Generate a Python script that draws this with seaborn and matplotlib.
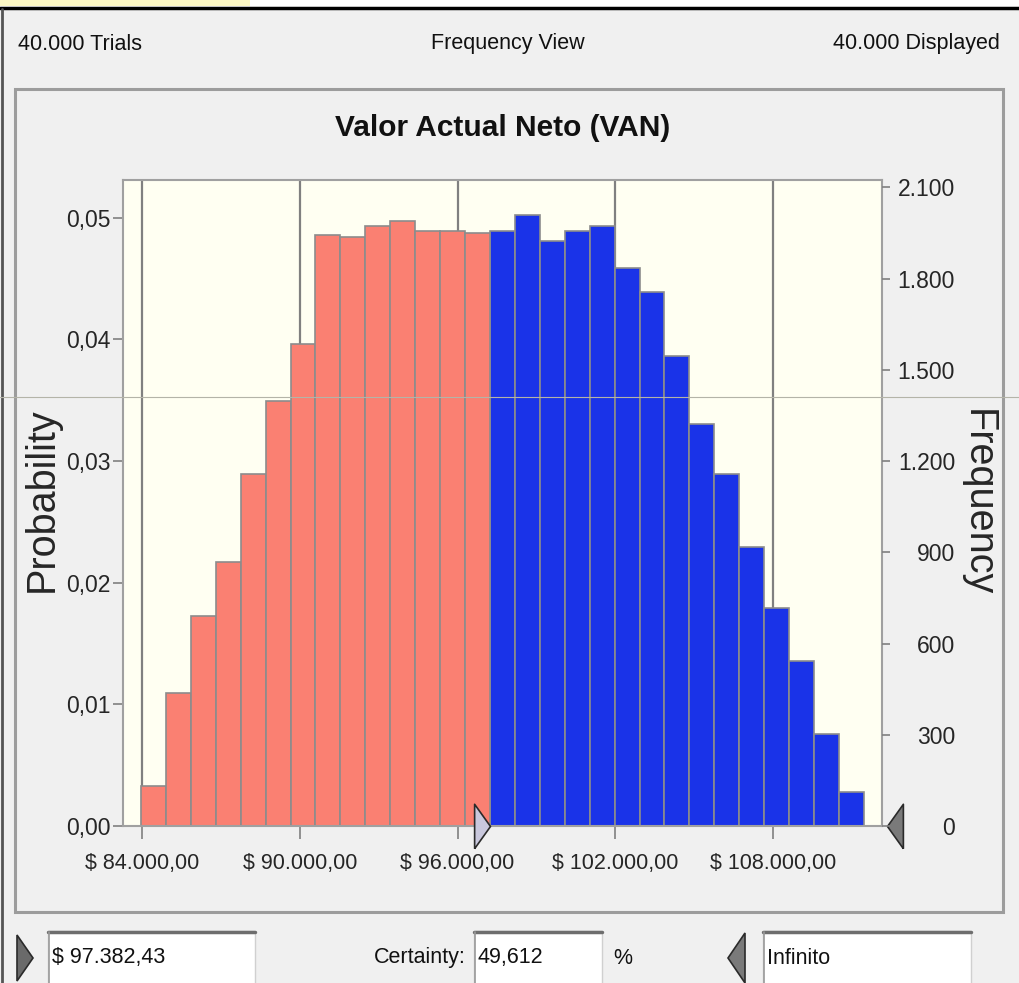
import numpy as np
import pandas as pd
import seaborn as sns
import matplotlib.pyplot as plt
from matplotlib.patches import Rectangle, Polygon
from matplotlib.lines import Line2D
from matplotlib.ticker import FuncFormatter

# Histogram (40.000 trials)
bin_start = 83960
bin_width = 948
red_counts = [132, 438, 690, 868, 1157, 1396, 1586, 1943, 1938, 1972, 1988, 1957, 1957, 1950]
blue_counts = [1957, 2010, 1922, 1957, 1972, 1836, 1757, 1546, 1322, 1157, 917, 717, 543, 303, 112]
trials = 40000
x_ticks = [84000, 90000, 96000, 102000, 108000]
prob_ticks = [0.0, 0.01, 0.02, 0.03, 0.04, 0.05]
freq_ticks = [0, 300, 600, 900, 1200, 1500, 1800, 2100]
lower_value = "$ 97.382,43"
certainty = "49,612"
upper_value = "Infinito"

W, H = 1019, 983


def fx(x):
    return x / W


def fy(y):
    return 1 - y / H


def es_num(v, dec):
    # spanish style number: 1.234,56
    s = f"{v:,.{dec}f}"
    return s.replace(',', 'X').replace('.', ',').replace('X', '.')


def rect(fig, x0, y0, x1, y1, **kw):
    return Rectangle((fx(x0), fy(y1)), (x1 - x0) / W, (y1 - y0) / H,
                     transform=fig.transFigure, **kw)


counts = red_counts + blue_counts
edges = (bin_start + bin_width * np.arange(len(counts) + 1)).tolist()
centers = [e + bin_width / 2 for e in edges[:-1]]
df = pd.DataFrame({'VAN': centers,
                   'count': counts,
                   'zone': ['out'] * len(red_counts) + ['in'] * len(blue_counts)})

sns.set_theme(style='white')
plt.rcParams['font.family'] = ['Liberation Sans', 'DejaVu Sans']
plt.rcParams['text.color'] = '#111111'

fig = plt.figure(figsize=(W / 100, H / 100), dpi=100, facecolor='#F0F0F0')

# window decoration
fig.add_artist(rect(fig, 0, 0, W, 7, fc='white', ec='none'))
fig.add_artist(rect(fig, 0, 0, 250, 6, fc='#FBF7C4', ec='none'))
fig.add_artist(Line2D([0, 1], [fy(8)] * 2, color='black', lw=2.5))
fig.add_artist(Line2D([fx(1.5)] * 2, [fy(9), 0], color='#555555', lw=2))
fig.add_artist(rect(fig, 15, 89, 1003, 912, fc='none', ec='#9C9C9C', lw=2.2))

fig.text(fx(18), fy(44), "40.000 Trials", ha='left', va='center', fontsize=15.5)
fig.text(fx(508), fy(44), "Frequency View", ha='center', va='center', fontsize=15.5)
fig.text(fx(1000), fy(44), "40.000 Displayed", ha='right', va='center', fontsize=15.5)

# main plot
ax = fig.add_axes([fx(123), fy(826), (882 - 123) / W, (826 - 180) / H])
ax.set_facecolor('#FFFFF2')
sns.histplot(data=df, x='VAN', weights='count', bins=edges, stat='probability',
             hue='zone', hue_order=['out', 'in'],
             palette={'out': '#FA8072', 'in': '#1A33E8'},
             multiple='layer', alpha=1, edgecolor='#8C8C8C', linewidth=1.2,
             legend=False, ax=ax)

top = 0.0531
ax.set_xlim(83277, 112142)
ax.set_ylim(0, top)
ax.set_xticks(x_ticks)
ax.set_yticks(prob_ticks)
ax.xaxis.set_major_formatter(FuncFormatter(lambda v, p: "$ " + es_num(v, 2)))
ax.yaxis.set_major_formatter(FuncFormatter(lambda v, p: es_num(v, 2)))
ax.grid(axis='x', color='#808080', linewidth=1.6)
ax.grid(axis='y', visible=False)
ax.set_axisbelow(True)
for s in ax.spines.values():
    s.set_color('#A0A0A0')
    s.set_linewidth(1.5)
ax.tick_params(axis='x', bottom=True, length=9.4, width=1.2, color='#808080',
               pad=10, labelsize=15.5)
ax.tick_params(axis='y', left=True, length=7.2, width=1.2, color='#808080',
               pad=2, labelsize=16.5)
ax.set_xlabel('')
ax.set_title("Valor Actual Neto (VAN)", fontsize=21.5, fontweight='bold', pad=32)
ax.set_ylabel("Probability", fontsize=28.5)
ax.yaxis.set_label_coords((42 - 123) / 759, (826 - 500) / 646)
ax.yaxis.label.set_va('center')

# frequency on the right
ax2 = ax.twinx()
ax2.set_ylim(0, top * trials)
ax2.set_yticks(freq_ticks)
ax2.yaxis.set_major_formatter(FuncFormatter(lambda v, p: es_num(v, 0)))
ax2.grid(False)
for s in ax2.spines.values():
    s.set_visible(False)
ax2.tick_params(axis='y', right=True, length=5.8, width=1.2, color='#808080',
                pad=(955 - 882 - 8) / 1.389, labelsize=16.5)
for lbl in ax2.get_yticklabels():
    lbl.set_ha('right')
ax2.set_ylabel("Frequency", fontsize=28.5, rotation=-90)
ax2.yaxis.set_label_coords((978 - 123) / 759, (826 - 503) / 646)
ax2.yaxis.label.set_va('center')

# certainty grabbers
split = edges[len(red_counts)]
ax.plot([split], [0], marker=[(-1, -1.4), (0, 0), (-1, 1.4), (-1, -1.4)], ms=32,
        mfc='#C9C8DD', mec='#2A2A2A', mew=1.2, clip_on=False, zorder=6)
ax.plot([(887 - 123) / 759], [0], transform=ax.transAxes,
        marker=[(1, -1.4), (0, 0), (1, 1.4), (1, -1.4)], ms=32,
        mfc='#7A7A7A', mec='#2A2A2A', mew=1.2, clip_on=False, zorder=6)

# rendering seam across the screenshot
fig.add_artist(Line2D([0, 1], [fy(397)] * 2, color='#B4B4A8', lw=0.8, zorder=20))

# bottom input boxes
for x0, x1 in [(48, 255), (474, 602), (763, 971)]:
    fig.add_artist(rect(fig, x0, 931, x1, 985, fc='white', ec='#D0D0D0', lw=1))
    fig.add_artist(Line2D([fx(x0), fx(x1)], [fy(932)] * 2, color='#6E6E6E', lw=2.5))
    fig.add_artist(Line2D([fx(x0 + 0.5)] * 2, [fy(932), 0], color='#9A9A9A', lw=1.2))

fig.add_artist(Polygon([(fx(17), fy(935)), (fx(33), fy(958)), (fx(17), fy(981))],
                       closed=True, transform=fig.transFigure,
                       fc='#6A6A6A', ec='#2A2A2A', lw=1.2))
fig.add_artist(Polygon([(fx(745), fy(933)), (fx(728), fy(958)), (fx(745), fy(983))],
                       closed=True, transform=fig.transFigure,
                       fc='#7A7A7A', ec='#2A2A2A', lw=1.2))

fig.text(fx(52), fy(958), lower_value, ha='left', va='center', fontsize=15.5)
fig.text(fx(466), fy(958), "Certainty:", ha='right', va='center', fontsize=15.5)
fig.text(fx(478), fy(958), certainty, ha='left', va='center', fontsize=15.5)
fig.text(fx(613), fy(958), "%", ha='left', va='center', fontsize=15.5)
fig.text(fx(767), fy(958), upper_value, ha='left', va='center', fontsize=15.5)

fig.savefig('out.png', dpi=100, facecolor=fig.get_facecolor())
